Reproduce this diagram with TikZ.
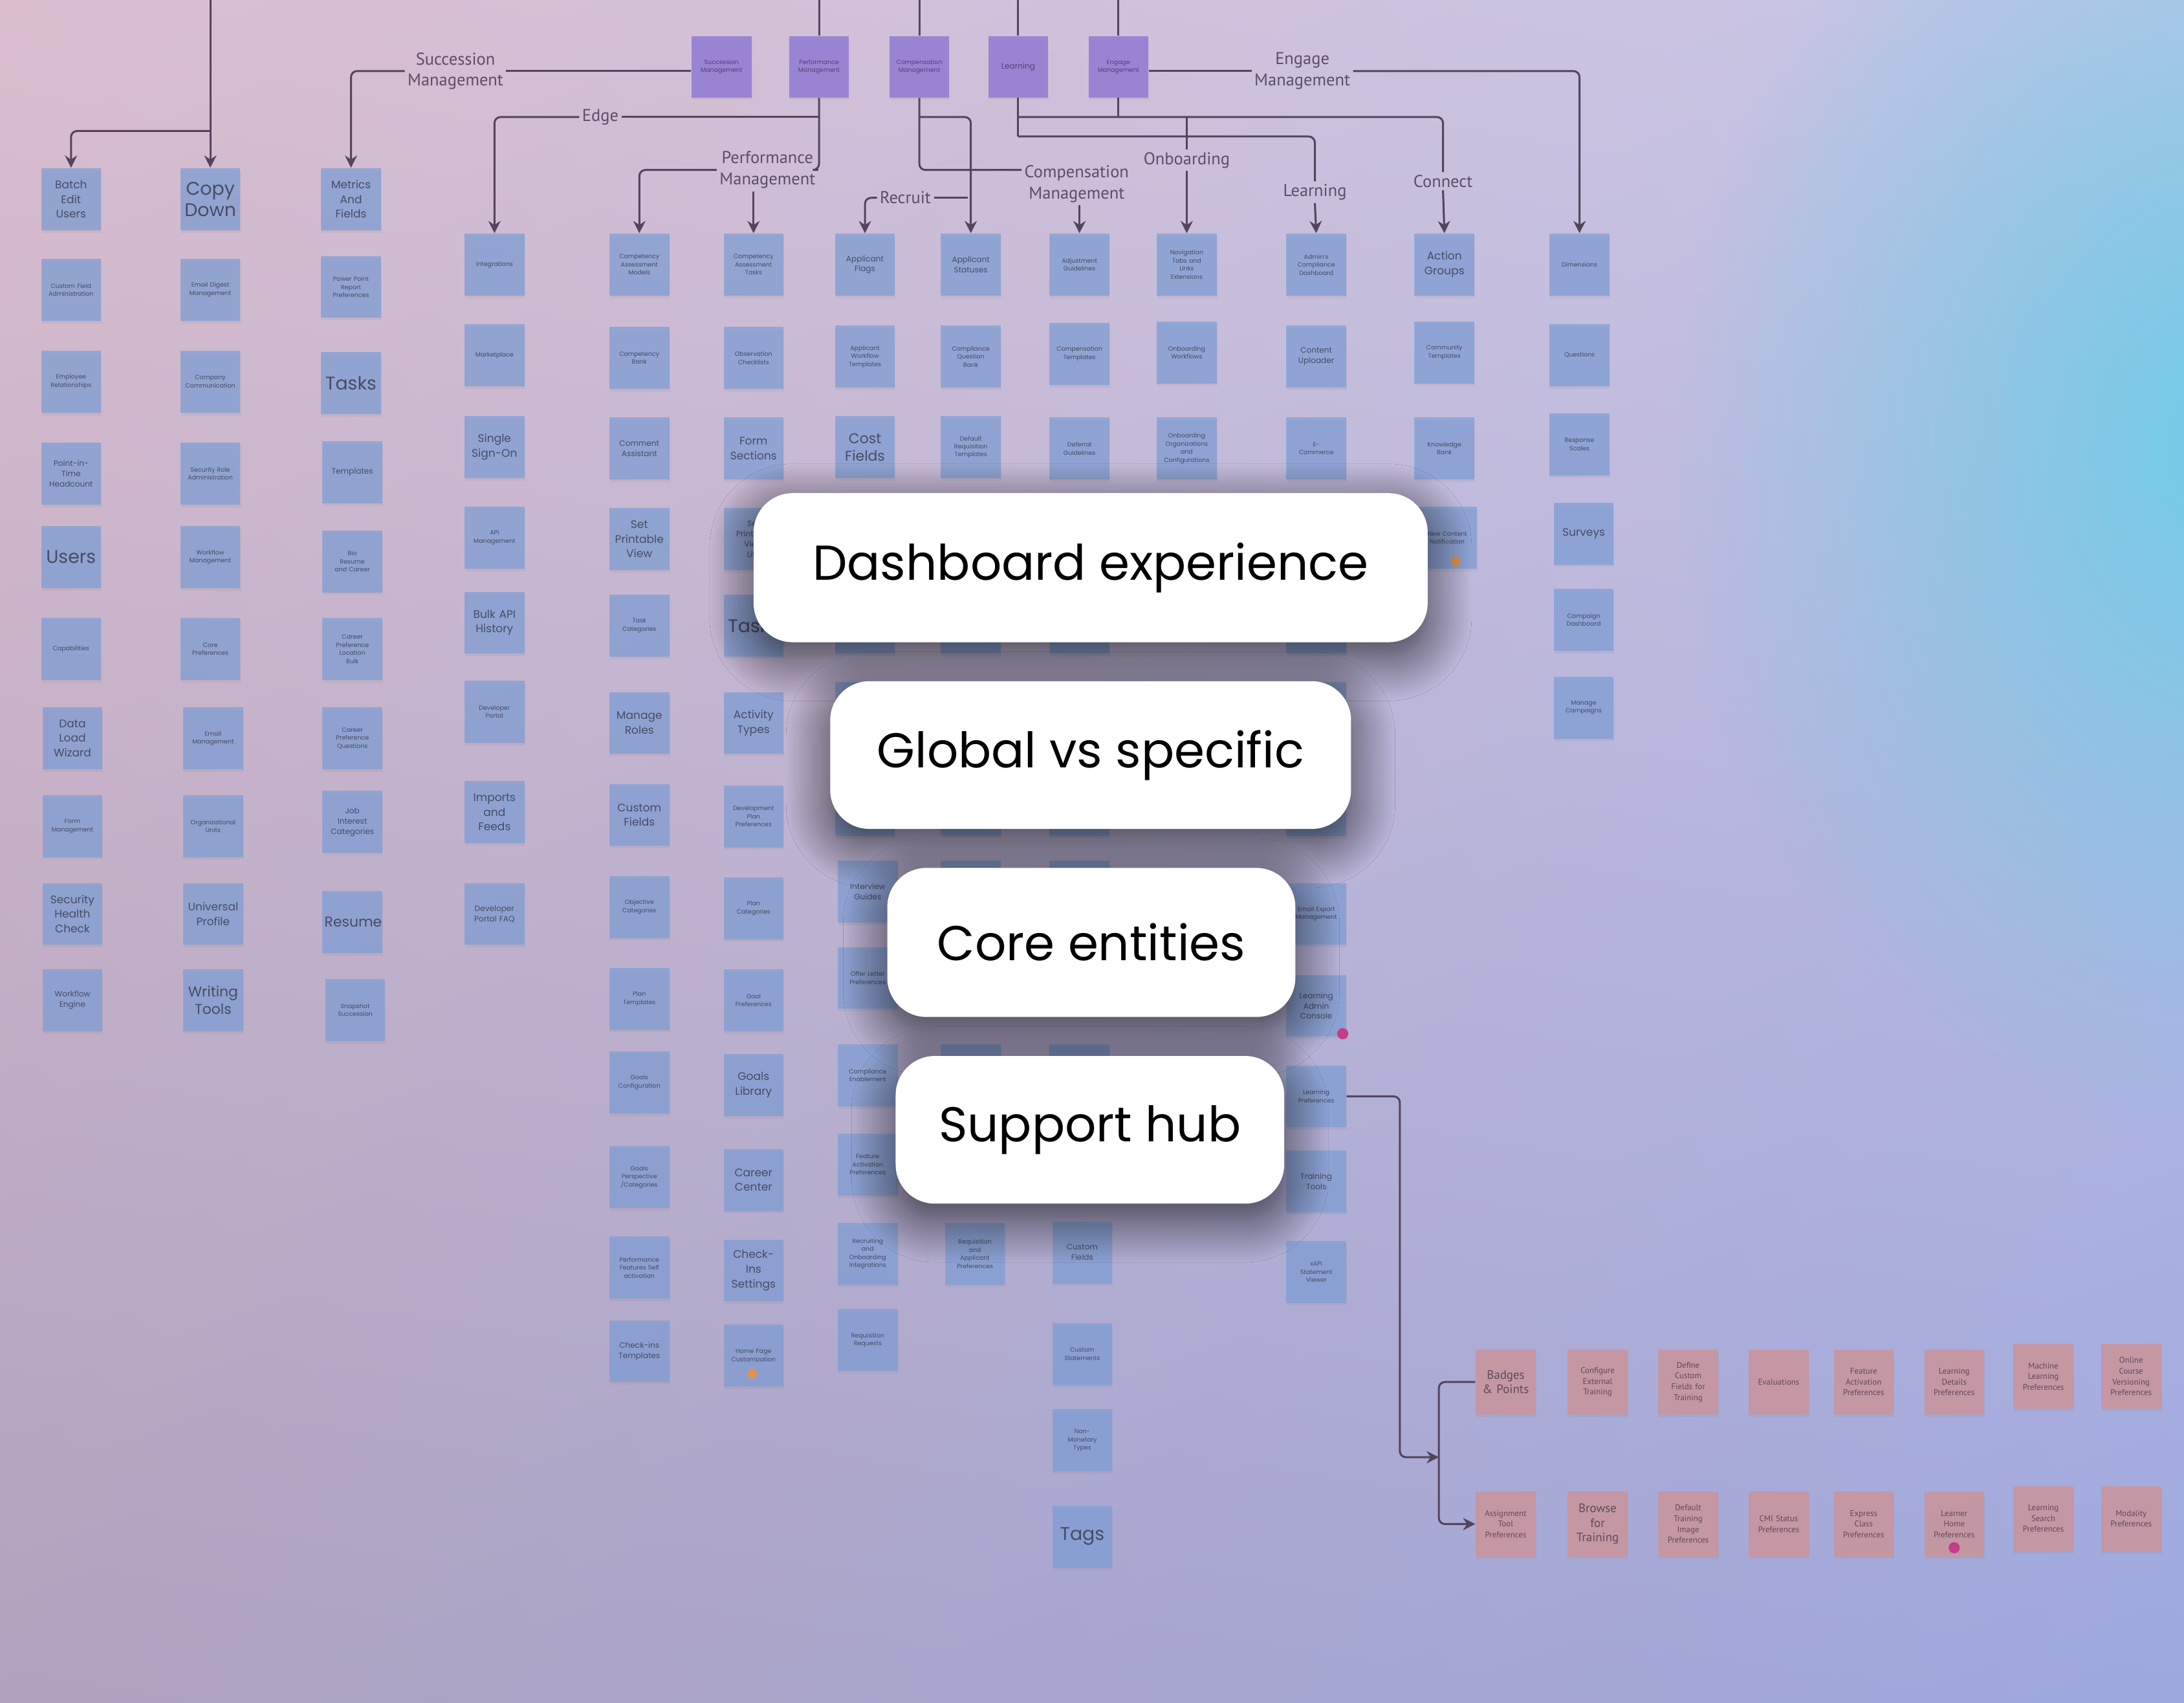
\documentclass[tikz,border=0pt]{standalone}
\usepackage{fontspec}
\setmainfont{Poppins}
\newfontfamily\lblfont{PT Sans}
\usetikzlibrary{shadings,shadows,shadows.blur,fadings,arrows.meta}

\definecolor{bgUL}{RGB}{218,190,206}
\definecolor{bgUR}{RGB}{198,197,232}
\definecolor{bgLL}{RGB}{176,162,190}
\definecolor{bgLR}{RGB}{158,168,222}
\definecolor{glowc}{RGB}{112,204,230}
\definecolor{notec}{RGB}{126,158,214}
\definecolor{notetxt}{RGB}{72,76,98}
\definecolor{purpc}{RGB}{150,128,212}
\definecolor{purptxt}{RGB}{80,66,120}
\definecolor{orc}{RGB}{200,150,158}
\definecolor{ortxt}{RGB}{96,74,92}
\definecolor{linec}{RGB}{84,68,92}
\definecolor{lbltxt}{RGB}{92,78,102}
\definecolor{dotor}{RGB}{228,146,80}
\definecolor{dotpk}{RGB}{196,60,140}

\tikzfading[name=glowfade, inner color=transparent!0, outer color=transparent!100]

\newcommand\szA{\fontsize{7.5}{8.6}\selectfont}
\newcommand\szB{\fontsize{5.8}{7}\selectfont}
\newcommand\szC{\fontsize{4.5}{6}\selectfont}
\newcommand\szD{\fontsize{3.2}{4.2}\selectfont}
\newcommand\szE{\fontsize{2.5}{3.3}\selectfont}
\newcommand\ofA{\lblfont\fontsize{5}{6}\selectfont}
\newcommand\ofD{\lblfont\fontsize{3.4}{4.4}\selectfont}

\tikzset{
  note/.style={fill=notec, fill opacity=0.72, text opacity=1, text=notetxt,
    text width=0.8cm, inner xsep=0.03cm, inner ysep=0pt, minimum height=0.89cm,
    align=center, drop shadow={shadow xshift=0.3pt, shadow yshift=-1pt, opacity=0.12}},
  ornote/.style={note, fill=orc, fill opacity=0.9, text=ortxt, minimum height=0.93cm},
  purp/.style={note, fill=purpc, fill opacity=0.92, text=purptxt, minimum height=0.88cm},
  con/.style={draw=linec, line width=0.8pt, rounded corners=2.5pt},
  arr/.style={con, -{Stealth[length=5pt, width=5pt]}},
  lbl/.style={font=\lblfont\fontsize{7}{8.6}\selectfont, text=lbltxt, align=center, inner sep=1pt},
  ovl/.style={fill=white, rounded corners=0.56cm, text=black,
    font=\fontsize{20}{24}\selectfont,
    blur shadow={shadow xshift=0pt, shadow yshift=-6pt, shadow blur radius=18pt,
      shadow blur steps=20, shadow opacity=70}},
}

\begin{document}
\begin{tikzpicture}[x=0.02cm, y=-0.02cm]
\useasboundingbox (0,0) rectangle (1568,1222);
\clip (0,0) rectangle (1568,1222);
\shade[upper left=bgUL, upper right=bgUR, lower left=bgLL, lower right=bgLR] (0,0) rectangle (1568,1222);
\fill[glowc, path fading=glowfade] (1600,320) ellipse [x radius=8cm, y radius=10cm];

% ---------- top purple boxes ----------
\node[purp, font=\szE] (succ) at (518,48) {Succession\\Management};
\node[purp, font=\szE] (perf) at (588,48) {Performance\\Management};
\node[purp, font=\szE] (comp) at (660,48) {Compensation\\Management};
\node[purp, font=\szD] (learn) at (731,48) {Learning};
\node[purp, font=\szE] (eng) at (803,48) {Engage\\Management};

% ---------- column 1 ----------
\node[note,font=\szC] (c1a) at (51,143) {Batch\\Edit\\Users};
\node[note,font=\szE] (c1b) at (51,208) {Custom Field\\Administration};
\node[note,font=\szE] (c1c) at (51,274) {Employee\\Relationships};
\node[note,font=\szD] (c1d) at (51,340) {Point-in-\\Time\\Headcount};
\node[note,font=\szA] (c1e) at (51,400) {Users};
\node[note,font=\szE] (c1f) at (51,466) {Capabilities};
\node[note,font=\szC] (c1g) at (52,530) {Data\\Load\\Wizard};
\node[note,font=\szE] (c1h) at (52,593) {Form\\Management};
\node[note,font=\szC] (c1i) at (52,656) {Security\\Health\\Check};
\node[note,font=\szD] (c1j) at (52,718) {Workflow\\Engine};

% ---------- column 2 ----------
\node[note,font=\szA] (c2a) at (151,143) {Copy\\Down};
\node[note,font=\szE] (c2b) at (151,208) {Email Digest\\Management};
\node[note,font=\szE] (c2c) at (151,274) {Company\\Communication};
\node[note,font=\szE] (c2d) at (151,340) {Security Role\\Administration};
\node[note,font=\szE] (c2e) at (151,400) {Workflow\\Management};
\node[note,font=\szE] (c2f) at (151,466) {Core\\Preferences};
\node[note,font=\szE] (c2g) at (153,530) {Email\\Management};
\node[note,font=\szE] (c2h) at (153,593) {Organizational\\Units};
\node[note,font=\szC] (c2i) at (153,656) {Universal\\Profile};
\node[note,font=\szB] (c2j) at (153,718) {Writing\\Tools};

% ---------- column 3 ----------
\node[note,font=\szC] (c3a) at (252,143) {Metrics\\And\\Fields};
\node[note,font=\szE] (c3b) at (252,206) {Power Point\\Report\\Preferences};
\node[note,font=\szA] (c3c) at (252,275) {Tasks};
\node[note,font=\szD] (c3d) at (253,339) {Templates};
\node[note,font=\szE] (c3e) at (253,403) {Bio\\Resume\\and Career};
\node[note,font=\szE] (c3f) at (253,466) {Career\\Preference\\Location\\Bulk};
\node[note,font=\szE] (c3g) at (253,530) {Career\\Preference\\Questions};
\node[note,font=\szD] (c3h) at (253,590) {Job\\Interest\\Categories};
\node[note,font=\szB] (c3i) at (253,662) {Resume};
\node[note,font=\szE] (c3j) at (255,725) {Snapshot\\Succession};

% ---------- column 4 ----------
\node[note,font=\szE] (c4a) at (355,190) {Integrations};
\node[note,font=\szE] (c4b) at (355,255) {Marketplace};
\node[note,font=\szC] (c4c) at (355,321) {Single\\Sign-On};
\node[note,font=\szE] (c4d) at (355,386) {API\\Management};
\node[note,font=\szC] (c4e) at (355,447) {Bulk API\\History};
\node[note,font=\szE] (c4f) at (355,511) {Developer\\Portal};
\node[note,font=\szC] (c4g) at (355,583) {Imports\\and\\Feeds};
\node[note,font=\szD] (c4h) at (355,656) {Developer\\Portal FAQ};

% ---------- column 5 ----------
\node[note,font=\szE] (c5a) at (459,190) {Competency\\Assessment\\Models};
\node[note,font=\szE] (c5b) at (459,257) {Competency\\Bank};
\node[note,font=\szD] (c5c) at (459,322) {Comment\\Assistant};
\node[note,font=\szC] (c5d) at (459,387) {Set\\Printable\\View};
\node[note,font=\szE] (c5e) at (459,449) {Task\\Categories};
\node[note,font=\szC] (c5f) at (459,519) {Manage\\Roles};
\node[note,font=\szC] (c5g) at (459,585) {Custom\\Fields};
\node[note,font=\szE] (c5h) at (459,651) {Objective\\Categories};
\node[note,font=\szE] (c5i) at (459,717) {Plan\\Templates};
\node[note,font=\szE] (c5j) at (459,777) {Goals\\Configuration};
\node[note,font=\szE] (c5k) at (459,845) {Goals\\Perspective\\/Categories};
\node[note,font=\szE] (c5l) at (459,910) {Performance\\Features Self\\activation};
\node[note,font=\szD] (c5m) at (459,970) {Check-ins\\Templates};

% ---------- column 6 ----------
\node[note,font=\szE] (c6a) at (541,190) {Competency\\Assessment\\Tasks};
\node[note,font=\szE] (c6b) at (541,257) {Observation\\Checklists};
\node[note,font=\szC] (c6c) at (541,322) {Form\\Sections};
\node[note,font=\szD] (c6d) at (541,387) {Set\\Printable\\View\\Lite};
\node[note,font=\szA] (c6e) at (541,449) {Tasks};
\node[note,font=\szC] (c6f) at (541,519) {Activity\\Types};
\node[note,font=\szE] (c6g) at (541,586) {Development\\Plan\\Preferences};
\node[note,font=\szE] (c6h) at (541,652) {Plan\\Categories};
\node[note,font=\szE] (c6i) at (541,718) {Goal\\Preferences};
\node[note,font=\szC] (c6j) at (541,779) {Goals\\Library};
\node[note,font=\szC] (c6k) at (541,847) {Career\\Center};
\node[note,font=\szC] (c6l) at (541,912) {Check-\\Ins\\Settings};
\node[note,font=\szE] (c6m) at (541,973) {Home Page\\Customization\\[3pt]};

% ---------- column 7 ----------
\node[note,font=\szD] (c7a) at (621,190) {Applicant\\Flags};
\node[note,font=\szE] (c7b) at (621,256) {Applicant\\Workflow\\Templates};
\node[note,font=\szB] (c7c) at (621,321) {Cost\\Fields};
\node[note] (c7d) at (621,386) {};
\node[note] (c7e) at (621,447) {};
\node[note] (c7f) at (621,512) {};
\node[note] (c7g) at (621,578) {};
\node[note,font=\szD] (c7h) at (623,640) {Interview\\Guides};
\node[note,font=\szE] (c7i) at (623,702) {Offer Letter\\Preferences};
\node[note,font=\szE] (c7j) at (623,772) {Compliance\\Enablement};
\node[note,font=\szE] (c7k) at (623,836) {Feature\\Activation\\Preferences};
\node[note,font=\szE] (c7l) at (623,900) {Recruiting\\and\\Onboarding\\Integrations};
\node[note,font=\szE] (c7m) at (623,962) {Requisition\\Requests};

% ---------- column 8 ----------
\node[note,font=\szD] (c8a) at (697,190) {Applicant\\Statuses};
\node[note,font=\szE] (c8b) at (697,256) {Compliance\\Question\\Bank};
\node[note,font=\szE] (c8c) at (697,321) {Default\\Requisition\\Templates};
\node[note] (c8d) at (697,386) {};
\node[note] (c8e) at (697,447) {};
\node[note] (c8f) at (697,512) {};
\node[note] (c8g) at (697,578) {};
\node[note] (c8h) at (697,640) {};
\node[note] (c8i) at (697,702) {};
\node[note] (c8j) at (697,772) {};
\node[note] (c8k) at (697,836) {};
\node[note,font=\szE] (c8l) at (700,900) {Requisition\\and\\Applicant\\Preferences};

% ---------- column 9 ----------
\node[note,font=\szE] (c9a) at (775,190) {Adjustment\\Guidelines};
\node[note,font=\szE] (c9b) at (775,254) {Compensation\\Templates};
\node[note,font=\szE] (c9c) at (775,322) {Deferral\\Guidelines};
\node[note] (c9d) at (775,386) {};
\node[note] (c9e) at (775,447) {};
\node[note] (c9f) at (775,512) {};
\node[note] (c9g) at (775,578) {};
\node[note] (c9h) at (775,640) {};
\node[note] (c9i) at (775,702) {};
\node[note] (c9j) at (775,772) {};
\node[note] (c9k) at (775,836) {};
\node[note,font=\szD] (c9l) at (777,899) {Custom\\Fields};
\node[note,font=\szE] (c9m) at (777,972) {Custom\\Statements};
\node[note,font=\szE] (c9n) at (777,1034) {Non-\\Monetary\\Types};
\node[note,font=\szA] (c9o) at (777,1103) {Tags};

% ---------- column 10 ----------
\node[note,font=\szE] (c10a) at (852,190) {Navigation\\Tabs and\\Links\\Extensions};
\node[note,font=\szE] (c10b) at (852,253) {Onboarding\\Workflows};
\node[note,font=\szE] (c10c) at (852,322) {Onboarding\\Organizations\\and\\Configurations};

% ---------- column 11 ----------
\node[note,font=\szE] (c11a) at (945,190) {Admin's\\Compliance\\Dashboard};
\node[note,font=\szD] (c11b) at (945,256) {Content\\Uploader};
\node[note,font=\szE] (c11c) at (945,322) {E-\\Commerce};
\node[note] (c11d) at (945,386) {};
\node[note] (c11e) at (945,447) {};
\node[note] (c11f) at (945,512) {};
\node[note] (c11g) at (945,578) {};
\node[note,font=\szE] (c11h) at (945,656) {Email Export\\Management};
\node[note,font=\szD] (c11i) at (945,722) {Learning\\Admin\\Console};
\node[note,font=\szE] (lpref) at (945,787) {Learning\\Preferences};
\node[note,font=\szD] (c11k) at (945,848) {Training\\Tools};
\node[note,font=\szE] (c11l) at (945,913) {xAPI\\Statement\\Viewer};

% ---------- column 12 ----------
\node[note,font=\szC] (c12a) at (1037,190) {Action\\Groups};
\node[note,font=\szE] (c12b) at (1037,253) {Community\\Templates};
\node[note,font=\szE] (c12c) at (1037,322) {Knowledge\\Bank};
\node[note,font=\szE] (c12d) at (1039,386) {New Content\\Notification\\[4pt]};

% ---------- column 13 ----------
\node[note,font=\szE] (c13a) at (1134,190) {Dimensions};
\node[note,font=\szE] (c13b) at (1134,255) {Questions};
\node[note,font=\szE] (c13c) at (1134,319) {Response\\Scales};
\node[note,font=\szC] (c13d) at (1137,383) {Surveys};
\node[note,font=\szE] (c13e) at (1137,445) {Campaign\\Dashboard};
\node[note,font=\szE] (c13f) at (1137,508) {Manage\\Campaigns};

% ---------- orange rows ----------
\node[ornote,font=\ofA] (badges) at (1081,992) {Badges\\\& Points};
\node[ornote,font=\ofD] (o2) at (1147,992) {Configure\\External\\Training};
\node[ornote,font=\ofD] (o3) at (1212,992) {Define\\Custom\\Fields for\\Training};
\node[ornote,font=\ofD] (o4) at (1277,992) {Evaluations};
\node[ornote,font=\ofD] (o5) at (1338,992) {Feature\\Activation\\Preferences};
\node[ornote,font=\ofD] (o6) at (1403,992) {Learning\\Details\\Preferences};
\node[ornote,font=\ofD] (o7) at (1467,988) {Machine\\Learning\\Preferences};
\node[ornote,font=\ofD] (o8) at (1530,988) {Online\\Course\\Versioning\\Preferences};
\node[ornote,font=\ofD] (assign) at (1081,1094) {Assignment\\Tool\\Preferences};
\node[ornote,font=\ofA] (o10) at (1147,1094) {Browse\\for\\Training};
\node[ornote,font=\ofD] (o11) at (1212,1094) {Default\\Training\\Image\\Preferences};
\node[ornote,font=\ofD] (o12) at (1277,1094) {CMI Status\\Preferences};
\node[ornote,font=\ofD] (o13) at (1338,1094) {Express\\Class\\Preferences};
\node[ornote,font=\ofD] (o14) at (1403,1094) {Learner\\Home\\Preferences\\[4pt]};
\node[ornote,font=\ofD] (o15) at (1467,1090) {Learning\\Search\\Preferences};
\node[ornote,font=\ofD] (o16) at (1530,1090) {Modality\\Preferences};

% ---------- dots ----------
\fill[dotor] (540,986) circle [radius=0.07cm];
\fill[dotor] (1045,403) circle [radius=0.07cm];
\fill[dotpk] (964,742) circle [radius=0.08cm];
\fill[dotpk] (1403,1111) circle [radius=0.08cm];

% ---------- labels ----------
\node[lbl] (lsucc) at (327,51) {Succession\\Management};
\node[lbl] (ledge) at (431,84) {Edge};
\node[lbl] (lperf) at (551,122) {Performance\\Management};
\node[lbl] (lrec) at (650,142) {Recruit};
\node[lbl] (lcomp) at (773,132) {Compensation\\Management};
\node[lbl] (lonb) at (852,115) {Onboarding};
\node[lbl] (llearn) at (944,138) {Learning};
\node[lbl] (lconn) at (1036,130) {Connect};
\node[lbl] (leng) at (935,51) {Engage\\Management};

% ---------- coordinates ----------
\coordinate (tl) at (151,0);
\coordinate (tlj) at (151,94);
\coordinate (t1) at (588,0);
\coordinate (t2) at (660,0);
\coordinate (t3) at (731,0);
\coordinate (t4) at (803,0);
\coordinate (pj1) at (588,84);
\coordinate (pj2) at (588,122);
\coordinate (cj1) at (660,84);
\coordinate (cj2) at (695,142);
\coordinate (cj3) at (660,122);
\coordinate (lj1) at (731,84);
\coordinate (lj2) at (731,98);
\coordinate (ej) at (803,84);
\coordinate (oj) at (852,84);
\coordinate (bv) at (1005,1046);
\coordinate (b1) at (1033,1046);

% ---------- connectors ----------
\draw[arr] (tl) -- (c2a.north);
\draw[arr] (tlj) -| (c1a.north);
\draw[con] (succ.west |- lsucc.east) -- (lsucc.east);
\draw[arr] (lsucc.west) -| (c3a.north);
\draw[con] (perf.north) -- (t1);
\draw[con] (comp.north) -- (t2);
\draw[con] (learn.north) -- (t3);
\draw[con] (eng.north) -- (t4);
% performance
\draw[con] (perf.south) -- (pj2) -- (lperf.east |- pj2);
\draw[con] (pj1) -- (ledge.east);
\draw[arr] (ledge.west) -| (c4a.north);
\draw[arr] (lperf.west |- pj2) -| (c5a.north);
\draw[arr] (lperf.south -| c6a.north) -- (c6a.north);
% compensation
\draw[con] (comp.south) -- (cj3) -- (cj3 -| lcomp.west);
\draw[arr] (cj1) -| (c8a.north);
\draw[con] (cj2) -- (lrec.east);
\draw[arr] (lrec.west) -| (c7a.north);
\draw[arr] (lcomp.south -| c9a.north) -- (c9a.north);
% learning / engage
\draw[con] (learn.south) -- (lj2);
\draw[con] (eng.south) -- (ej);
\draw[con] (lj1) -| (lconn.north);
\draw[arr] (lconn.south) -- (c12a.north);
\draw[con] (oj) -- (lonb.north);
\draw[arr] (lonb.south) -- (c10a.north);
\draw[con] (lj2) -| (llearn.north);
\draw[arr] (llearn.south) -- (c11a.north);
\draw[con] (eng.east |- leng.west) -- (leng.west);
\draw[arr] (leng.east) -| (c13a.north);
% learning preferences tree
\draw[arr] (lpref.east) -| (bv) -- (b1);
\draw[con] (badges.west) -| (b1);
\draw[arr] (b1) |- (assign.west);

% ---------- overlays ----------
\node[ovl, minimum width=9.68cm, minimum height=2.14cm] (ov1) at (783,407.5) {Dashboard experience};
\node[ovl, minimum width=7.48cm, minimum height=2.12cm] (ov2) at (783,542) {Global vs specific};
\node[ovl, minimum width=5.86cm, minimum height=2.14cm] (ov3) at (783.5,676.5) {Core entities};
\node[ovl, minimum width=5.58cm, minimum height=2.12cm] (ov4) at (782.5,811) {Support hub};
\end{tikzpicture}
\end{document}
